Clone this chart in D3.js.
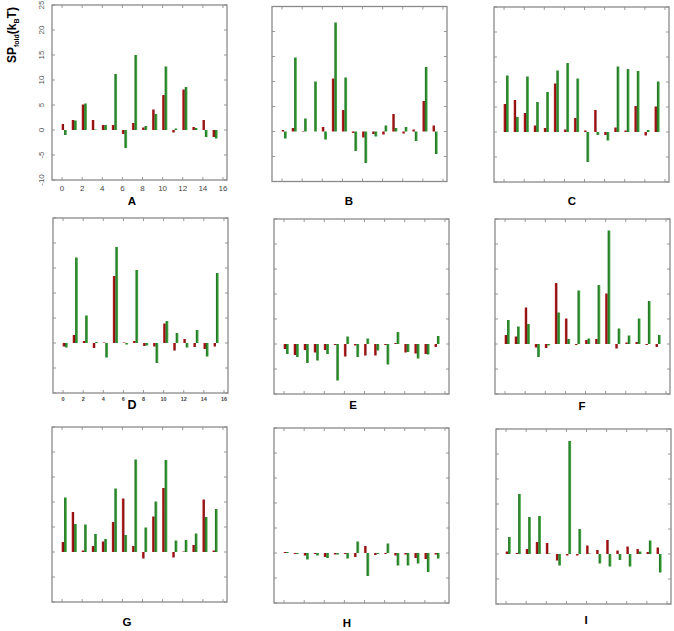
<!DOCTYPE html>
<html>
<head>
<meta charset="utf-8">
<script src="https://cdn.jsdelivr.net/npm/d3@7"></script>
<style>
  body { margin: 0; background: #fff; }
  svg { display: block; font-family: "Liberation Sans", Arial, sans-serif; }
</style>
</head>
<body>
<svg id="chart" width="674" height="631"></svg>
<script>
// values, 16 residues per panel (red, green)
const panelNames = ['A', 'B', 'C', 'D', 'E', 'F', 'G', 'H', 'I'];

const redA = [1.2, 2.0, 5.1, 2.0, 1.0, 1.0, -0.8, 1.4, 0.5, 4.1, 7.0, -0.5, 8.1, 0.6, 2.0, -1.4];
const greenA = [-1.0, 1.9, 5.3, 0.1, 1.0, 11.2, -3.6, 15.0, 0.8, 3.2, 12.7, 0.3, 8.6, 0.4, -1.4, -1.7];

const redB = [0.3, 0.7, 0.1, 0.0, 0.9, 10.6, 4.3, -0.3, -1.2, -0.5, -0.6, 3.5, -0.4, 0.4, 6.1, 1.2];
const greenB = [-1.4, 14.8, 2.6, 10.0, -1.6, 21.8, 10.8, -3.9, -6.3, -1.0, 1.2, 0.7, 0.9, -1.9, 12.9, -4.5];

const redC = [5.6, 6.4, 3.8, 1.3, 0.8, 9.7, 0.5, 2.8, 0.3, 4.4, -0.6, 0.9, 0.3, 5.2, -0.7, 5.1];
const greenC = [11.3, 3.0, 11.1, 6.0, 8.0, 12.3, 13.8, 10.7, -6.0, -0.6, -1.7, 13.1, 12.6, 12.2, 0.4, 10.1];

const redD = [-0.7, 1.6, 0.4, -1.0, 0.1, 13.4, 0.1, 0.4, -0.6, -0.7, 3.9, -1.5, 0.8, -0.8, -1.2, -0.7];
const greenD = [-0.9, 17.1, 5.5, 0.2, -2.9, 19.2, -0.3, 14.6, -0.5, -4.0, 4.4, 2.0, -0.9, 2.6, -2.7, 14.0];

const redE = [-1.0, -2.2, -1.2, -1.7, -1.2, -0.2, -2.5, -0.3, -2.3, -2.3, -0.2, 0.2, -1.7, -1.9, -2.0, -0.6];
const greenE = [-2.0, -2.6, -3.8, -3.3, -2.0, -7.3, 1.5, -2.6, 1.1, -1.3, -4.1, 2.4, -1.6, -2.9, -2.1, 1.6];

const redF = [1.8, 1.5, 7.3, -0.7, -0.8, 12.2, 5.1, -0.2, 0.8, 1.0, 10.1, -0.9, 0.3, 0.4, -0.2, -0.6];
const greenF = [4.8, 3.5, 4.0, -2.6, -0.3, 6.3, 1.0, 10.7, 1.1, 11.8, 22.7, 3.1, 1.7, 5.1, 8.6, 1.8];

const redG = [2.0, 8.0, 0.3, 1.2, 2.1, 6.0, 10.7, 1.2, -1.3, 7.1, 12.8, -1.1, 0.1, 1.4, 10.5, 0.3];
const greenG = [10.9, 5.6, 5.5, 3.6, 2.6, 12.7, 3.4, 18.5, 4.9, 10.1, 18.4, 2.3, 2.4, 3.7, 7.0, 8.6];

const redH = [0.2, -0.2, -0.5, -0.2, -0.8, -0.3, -0.2, -0.8, 1.4, -0.4, -0.2, -0.5, -0.3, -1.0, -1.2, -0.3];
const greenH = [0.2, -0.2, -1.3, -0.5, -1.0, -0.3, -1.1, 2.3, -4.6, -0.2, 1.9, -2.5, -2.5, -2.1, -3.8, -1.1];

const redI = [0.5, 0.2, 1.0, 2.4, 2.2, -1.3, -0.3, -0.3, 1.7, 0.8, 2.8, 0.7, 1.5, 1.0, 0.4, 1.3];
const greenI = [3.4, 12.0, 7.4, 7.6, 0.1, -2.3, 22.6, 5.0, 0.1, -1.9, -2.5, -1.2, -2.5, 0.5, 2.7, -3.7];

const redSeries = [redA, redB, redC, redD, redE, redF, redG, redH, redI];
const greenSeries = [greenA, greenB, greenC, greenD, greenE, greenF, greenG, greenH, greenI];

const yTicks = [-10, -5, 0, 5, 10, 15, 20, 25];
const xTicks = [0, 2, 4, 6, 8, 10, 12, 14, 16];

// panel layout (frame top-left corner, label position)
const frames = [
  {x: 52, y: 5, lx: 132, ly: 205},
  {x: 272, y: 6.5, lx: 349, ly: 205},
  {x: 494, y: 7, lx: 572, ly: 205},
  {x: 53, y: 218, lx: 132, ly: 409},
  {x: 274, y: 219, lx: 353, ly: 409},
  {x: 495, y: 219, lx: 582, ly: 410},
  {x: 52, y: 427, lx: 127, ly: 626},
  {x: 274, y: 428, lx: 347, ly: 627},
  {x: 496, y: 429, lx: 586, ly: 624}
];
const W = 175, H = 175;

const svg = d3.select('#chart');
const defs = svg.append('defs');

const redGrad = defs.append('linearGradient').attr('id', 'gRed');
redGrad.append('stop').attr('offset', '0%').attr('stop-color', '#e07a7a');
redGrad.append('stop').attr('offset', '30%').attr('stop-color', '#a81818');
redGrad.append('stop').attr('offset', '100%').attr('stop-color', '#7a0a0a');

const greenGrad = defs.append('linearGradient').attr('id', 'gGreen');
greenGrad.append('stop').attr('offset', '0%').attr('stop-color', '#1c6e1c');
greenGrad.append('stop').attr('offset', '55%').attr('stop-color', '#2e8e2e');
greenGrad.append('stop').attr('offset', '100%').attr('stop-color', '#5cb35c');

panelNames.forEach(function(name, p){
  const f = frames[p];
  const x = d3.scaleLinear().domain([-1, 16.4]).range([f.x, f.x + W]);
  const y = d3.scaleLinear().domain([-10, 25]).range([f.y + H, f.y]);
  const g = svg.append('g').attr('class', 'panel');

  const bars = redSeries[p].map(function(r, i){ return {i: i, r: r, gr: greenSeries[p][i]} });

  g.selectAll('rect.red')
    .data(bars)
    .enter().append('rect')
      .attr('class', 'red')
      .attr('x', function(d){ return x(d.i - 0.06) })
      .attr('width', function(d){ return x(d.i + 0.2) - x(d.i - 0.06) })
      .attr('y', function(d){ return y(Math.max(0, d.r)) })
      .attr('height', function(d){ return Math.abs(y(d.r) - y(0)) })
      .style('fill', 'url(#gRed)')

  g.selectAll('rect.green')
    .data(bars)
    .enter().append('rect')
      .attr('class', 'green')
      .attr('x', function(d){ return x(d.i + 0.2) })
      .attr('width', function(d){ return x(d.i + 0.47) - x(d.i + 0.2) })
      .attr('y', function(d){ return y(Math.max(0, d.gr)) })
      .attr('height', function(d){ return Math.abs(y(d.gr) - y(0)) })
      .style('fill', 'url(#gGreen)')

  // inward ticks on all four sides
  const tk = 3;
  g.selectAll('line.yt')
    .data(yTicks)
    .enter().append('line')
      .attr('x1', f.x).attr('x2', f.x + tk)
      .attr('y1', function(d){ return y(d) }).attr('y2', function(d){ return y(d) })
      .style('stroke', '#999')
  g.selectAll('line.yt2')
    .data(yTicks)
    .enter().append('line')
      .attr('x1', f.x + W).attr('x2', f.x + W - tk)
      .attr('y1', function(d){ return y(d) }).attr('y2', function(d){ return y(d) })
      .style('stroke', '#999')
  g.selectAll('line.xt')
    .data(xTicks)
    .enter().append('line')
      .attr('x1', function(d){ return x(d) }).attr('x2', function(d){ return x(d) })
      .attr('y1', f.y + H).attr('y2', f.y + H - tk)
      .style('stroke', '#999')
  g.selectAll('line.xt2')
    .data(xTicks)
    .enter().append('line')
      .attr('x1', function(d){ return x(d) }).attr('x2', function(d){ return x(d) })
      .attr('y1', f.y).attr('y2', f.y + tk)
      .style('stroke', '#999')

  g.append('rect')
    .attr('x', f.x).attr('y', f.y)
    .attr('width', W).attr('height', H)
    .style('fill', 'none')
    .style('stroke', '#8a8a8a')
    .style('stroke-width', 1.3)

  g.append('text')
    .attr('x', f.lx).attr('y', f.ly)
    .style('text-anchor', 'middle')
    .style('font-weight', 'bold')
    .style('font-size', name === 'D' ? '12.5px' : '11.5px')
    .text(name)

  if (name === 'A') {
    g.selectAll('text.yl')
      .data(yTicks)
      .enter().append('text')
        .attr('transform', function(d){ return 'translate(44,' + y(d) + ') rotate(-90)' })
        .style('text-anchor', 'middle')
        .style('font-size', '8px')
        .style('fill', '#555')
        .text(function(d){ return d })
    g.selectAll('text.xl')
      .data(xTicks)
      .enter().append('text')
        .attr('x', function(d){ return x(d) })
        .attr('y', f.y + H + 11)
        .style('text-anchor', 'middle')
        .style('font-size', '8px')
        .style('fill', '#444')
        .text(function(d){ return d })
  }
  if (name === 'D') {
    g.selectAll('text.xl')
      .data(xTicks)
      .enter().append('text')
        .attr('x', function(d){ return x(d) })
        .attr('y', f.y + H + 8)
        .style('text-anchor', 'middle')
        .style('font-size', '5.5px')
        .style('font-weight', 'bold')
        .style('fill', '#444')
        .text(function(d){ return d })
  }
});

// y axis title: SP_fold (k_B T)
const title = svg.append('text')
  .attr('transform', 'translate(16,63) rotate(-90)')
  .style('font-weight', 'bold')
  .style('font-size', '12px')
title.append('tspan').text('SP')
title.append('tspan').attr('dy', 3).style('font-size', '7px').text('fold')
title.append('tspan').attr('dy', -3).text('(k')
title.append('tspan').attr('dy', 3).style('font-size', '7px').text('B')
title.append('tspan').attr('dy', -3).text('T)')
</script>
</body>
</html>
